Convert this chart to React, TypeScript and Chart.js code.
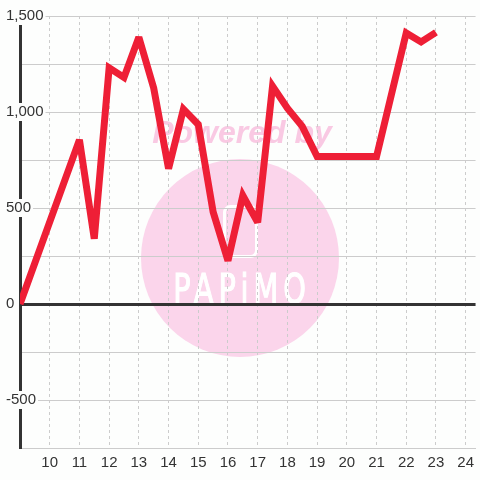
import React, { useEffect, useRef } from 'react';
import { Chart, registerables } from 'chart.js';

Chart.register(...registerables);

// ---- data ----
const xValues = [9, 11, 11.5, 12, 12.5, 13, 13.5, 14, 14.5, 15, 15.5, 16, 16.5, 17, 17.5, 18, 18.5, 19, 21, 22, 22.5, 23];
const yValues = [0, 855, 340, 1230, 1180, 1390, 1125, 705, 1015, 935, 480, 225, 565, 425, 1135, 1020, 925, 768, 768, 1412, 1365, 1415];
const xTicks = [10, 11, 12, 13, 14, 15, 16, 17, 18, 19, 20, 21, 22, 23, 24];
const xMin = 9;
const xMax = 24.333;
const yMin = -750;
const yMax = 1500;
const yStep = 250;
const yLabelStep = 500;
const watermarkTop = 'Powered by';
const watermarkBrand = 'PAPiMO';

const BG = '#fdfefd';
const LINE = '#ee1f36';
const GRID = '#cccccc';
const DARK = '#333333';
const PINK = '#fbd5eb';

const watermarkPlugin = {
  id: 'bgWatermark',
  beforeDraw(chart: any) {
    const ctx = chart.ctx as CanvasRenderingContext2D;
    ctx.save();
    ctx.fillStyle = BG;
    ctx.fillRect(0, 0, chart.width, chart.height);
    // circle
    ctx.fillStyle = PINK;
    ctx.beginPath();
    ctx.arc(240, 258, 99, 0, Math.PI * 2);
    ctx.fill();
    // "Powered by"
    ctx.fillStyle = '#f9c9e3';
    ctx.font = 'italic bold 32px "Liberation Sans", Arial, sans-serif';
    ctx.textAlign = 'center';
    ctx.textBaseline = 'alphabetic';
    ctx.fillText(watermarkTop, 242, 143);
    // icon
    ctx.strokeStyle = '#ffffff';
    ctx.lineWidth = 3;
    ctx.beginPath();
    (ctx as any).roundRect(224.5, 206.5, 32, 50, 6);
    ctx.stroke();
    // brand
    ctx.fillStyle = '#ffffff';
    ctx.strokeStyle = '#ffffff';
    ctx.lineWidth = 1.2;
    ctx.translate(240, 303);
    ctx.scale(0.72, 1);
    ctx.font = 'normal 40px "DejaVu Sans", sans-serif';
    (ctx as any).letterSpacing = '7px';
    ctx.textAlign = 'center';
    ctx.fillText(watermarkBrand, 3, 0);
    ctx.strokeText(watermarkBrand, 3, 0);
    ctx.restore();
  },
  beforeDatasetsDraw(chart: any) {
    chart.ctx.save();
    chart.ctx.miterLimit = 3;
  },
  afterDatasetsDraw(chart: any) {
    chart.ctx.restore();
  },
};

export default function App() {
  const ref = useRef<HTMLCanvasElement | null>(null);

  useEffect(() => {
    if (!ref.current) return;
    const points = xValues.map((x, i) => ({ x, y: yValues[i] }));
    const chart = new Chart(ref.current, {
      type: 'line',
      data: {
        datasets: [
          {
            data: points,
            borderColor: LINE,
            borderWidth: 7,
            pointRadius: 0,
            pointHoverRadius: 0,
            tension: 0,
            fill: false,
            borderJoinStyle: 'miter',
          },
        ],
      },
      options: {
        responsive: false,
        animation: false,
        events: [],
        layout: { padding: { top: 16, left: 5, right: 0, bottom: 0 } },
        plugins: {
          legend: { display: false },
          tooltip: { enabled: false },
          title: { display: false },
        },
        scales: {
          x: {
            type: 'linear',
            min: xMin,
            max: xMax,
            afterBuildTicks: (scale: any) => {
              scale.ticks = xTicks.map((v) => ({ value: v }));
            },
            afterFit: (scale: any) => {
              scale.height = 32;
            },
            grid: { color: GRID, lineWidth: 1, drawTicks: false },
            border: { display: true, color: GRID, width: 1, dash: [3, 3] },
            ticks: {
              color: DARK,
              font: { family: '"Liberation Sans", Arial, sans-serif', size: 15 },
              padding: 6,
              autoSkip: false,
              maxRotation: 0,
            },
          },
          y: {
            type: 'linear',
            min: yMin,
            max: yMax,
            afterFit: (scale: any) => {
              scale.width = 15;
            },
            grid: {
              color: (c: any) => (c.tick && c.tick.value === 0 ? DARK : GRID),
              lineWidth: (c: any) => (c.tick && c.tick.value === 0 ? 3 : 1),
              drawTicks: false,
            },
            border: { display: true, color: DARK, width: 3 },
            ticks: {
              stepSize: yStep,
              autoSkip: false,
              mirror: true,
              crossAlign: 'near',
              padding: -14,
              color: DARK,
              font: { family: '"Liberation Sans", Arial, sans-serif', size: 15 },
              showLabelBackdrop: true,
              backdropPadding: { top: 0, bottom: 0, left: 1, right: 2 },
              backdropColor: (c: any) =>
                c.tick && c.tick.value % yLabelStep === 0 ? BG : 'rgba(0,0,0,0)',
              callback: (v: any) =>
                Number(v) % yLabelStep === 0 ? Number(v).toLocaleString('en-US') : '',
            },
          },
        },
      },
      plugins: [watermarkPlugin],
    } as any);
    return () => chart.destroy();
  }, []);

  return (
    <div style={{ position: 'absolute', left: 0, top: 0, width: 480, height: 480 }}>
      <canvas ref={ref} width={480} height={480} style={{ display: 'block' }} />
    </div>
  );
}
